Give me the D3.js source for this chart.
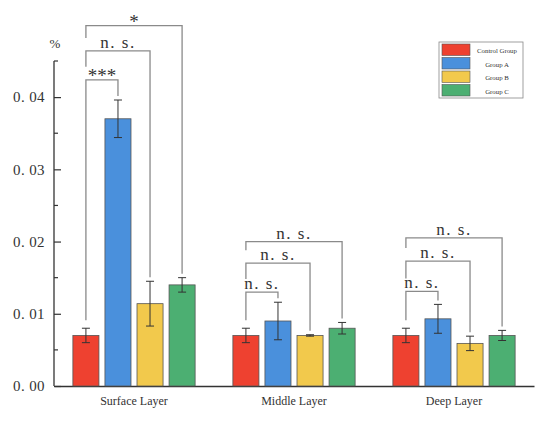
<!DOCTYPE html>
<html lang="en">
<head>
  <meta charset="UTF-8">
  <title>Layer comparison</title>
  <style>
    body { margin: 0; background: #fff; }
    svg text { font-family: "Liberation Serif", "DejaVu Serif", serif; fill: #333; }
  </style>
  <script src="https://d3js.org/d3.v7.min.js"></script>
</head>
<body>
  <svg width="550" height="421"></svg>

  <script>
    // data
    var layers = ["Surface Layer", "Middle Layer", "Deep Layer"];
    var groups = ["Control Group", "Group A", "Group B", "Group C"];
    var colors = ["#ee4130", "#4a90dc", "#f2c94c", "#4caf72"];

    var controlMean = [0.0070, 0.0070, 0.0070];
    var groupAMean  = [0.0370, 0.0090, 0.0093];
    var groupBMean  = [0.0114, 0.0070, 0.0059];
    var groupCMean  = [0.0140, 0.0080, 0.0070];

    var controlErr = [0.0010, 0.0010, 0.0010];
    var groupAErr  = [0.0026, 0.0026, 0.0020];
    var groupBErr  = [0.0031, 0.0001, 0.0010];
    var groupCErr  = [0.0010, 0.0008, 0.0007];

    // significance of control vs A, B, C in each layer, and bracket heights
    var sigLabels = [
      ["***", "n. s.", "*"],
      ["n. s.", "n. s.", "n. s."],
      ["n. s.", "n. s.", "n. s."]
    ];
    var sigLevels = [
      [0.0424, 0.0464, 0.0499],
      [0.0130, 0.0170, 0.0200],
      [0.0131, 0.0173, 0.0205]
    ];

    var yTicks = [0, 0.01, 0.02, 0.03, 0.04];

    var means = [controlMean, groupAMean, groupBMean, groupCMean];
    var errs = [controlErr, groupAErr, groupBErr, groupCErr];

    var svg = d3.select("svg");

    var x0 = d3.scaleBand().domain(layers).range([54, 534]);
    var x1 = d3.scaleBand().domain(groups)
      .range([-64, 64]).paddingInner(0.1875).paddingOuter(0.09);
    var y = d3.scaleLinear().domain([0, 0.045]).range([386, 61]);

    function barCenter(li, gi) {
      return x0(layers[li]) + x0.bandwidth() / 2 + x1(groups[gi]) + x1.bandwidth() / 2;
    }

    // y axis, inward ticks
    var yAxis = d3.axisLeft(y).tickValues(yTicks)
      .tickSize(-7).tickPadding(9)
      .tickFormat(function(d) { return d3.format(".2f")(d).replace(".", ". "); });
    var gy = svg.append("g").attr("transform", "translate(54,0)").call(yAxis);
    gy.select(".domain").attr("stroke", "#333").attr("stroke-width", 1.3)
      .attr("d", "M0,61V386");
    gy.selectAll(".tick line").attr("stroke", "#333").attr("stroke-width", 1.2);
    gy.selectAll(".tick text").attr("font-size", 15).style("fill", "#333")
      .style("letter-spacing", "0.4px");
    // minor ticks
    gy.selectAll(".minor").data([0.005, 0.015, 0.025, 0.035, 0.045]).enter()
      .append("line").attr("class", "minor")
      .attr("x1", 0).attr("x2", 4)
      .attr("y1", function(d) { return y(d); }).attr("y2", function(d) { return y(d); })
      .attr("stroke", "#333").attr("stroke-width", 1.2);

    svg.append("text").attr("x", 55).attr("y", 48)
      .attr("text-anchor", "middle").attr("font-size", 13).text("%");

    // x axis
    var xAxis = d3.axisBottom(x0).tickSize(0).tickPadding(10);
    var gx = svg.append("g").attr("transform", "translate(0,386)").call(xAxis);
    gx.select(".domain").attr("stroke", "#333").attr("stroke-width", 1.3);
    gx.selectAll(".tick text").attr("font-size", 12).style("fill", "#333");

    // bars
    groups.forEach(function(g, gi) {
      svg.append("g").selectAll("rect").data(layers).enter().append("rect")
        .attr("x", function(d) { return x0(d) + x0.bandwidth() / 2 + x1(g); })
        .attr("y", function(d, li) { return y(means[gi][li]); })
        .attr("width", x1.bandwidth())
        .attr("height", function(d, li) { return y(0) - y(means[gi][li]); })
        .attr("fill", colors[gi])
        .attr("stroke", "#555").attr("stroke-width", 0.8);

      var eb = svg.append("g").selectAll("g").data(layers).enter().append("g")
        .attr("stroke", "#333").attr("stroke-width", 1);
      eb.append("line")
        .attr("x1", function(d, li) { return barCenter(li, gi); })
        .attr("x2", function(d, li) { return barCenter(li, gi); })
        .attr("y1", function(d, li) { return y(means[gi][li] + errs[gi][li]); })
        .attr("y2", function(d, li) { return y(means[gi][li] - errs[gi][li]); });
      [1, -1].forEach(function(s) {
        eb.append("line")
          .attr("x1", function(d, li) { return barCenter(li, gi) - 4; })
          .attr("x2", function(d, li) { return barCenter(li, gi) + 4; })
          .attr("y1", function(d, li) { return y(means[gi][li] + s * errs[gi][li]); })
          .attr("y2", function(d, li) { return y(means[gi][li] + s * errs[gi][li]); });
      });
    });

    // significance brackets
    layers.forEach(function(layer, li) {
      var xl = barCenter(li, 0);
      sigLabels[li].forEach(function(lab, k) {
        var gi = k + 1;
        var xr = barCenter(li, gi);
        var yb = y(sigLevels[li][k]);
        var leftEnd = k === 0 ? y(means[0][li] + errs[0][li]) - 8 : y(sigLevels[li][k - 1]) - 13;
        var rightEnd = y(means[gi][li] + errs[gi][li]) - 4;
        svg.append("path")
          .attr("d", "M" + xl + "," + leftEnd + "V" + yb + "H" + xr + "V" + rightEnd)
          .attr("fill", "none").attr("stroke", "#8a8a8a").attr("stroke-width", 1.3);
        var t = svg.append("text")
          .attr("x", (xl + xr) / 2).attr("y", yb - (lab === "n. s." ? 3 : -2))
          .attr("text-anchor", "middle")
          .attr("font-size", lab === "n. s." ? 17 : 19)
          .text(lab);
        if (lab === "n. s.") t.style("letter-spacing", "1.5px");
      });
    });

    // legend
    var lg = svg.append("g").attr("transform", "translate(439,42)");
    lg.append("rect").attr("width", 84).attr("height", 56)
      .attr("fill", "#fff").attr("stroke", "#888").attr("stroke-width", 0.8);
    groups.forEach(function(g, i) {
      lg.append("rect").attr("x", 3).attr("y", 2 + i * 13.5)
        .attr("width", 28).attr("height", 11.5)
        .attr("fill", colors[i]).attr("stroke", "#555").attr("stroke-width", 0.6);
      lg.append("text").attr("x", 58).attr("y", 11 + i * 13.5)
        .attr("text-anchor", "middle").attr("font-size", 6.8).text(g);
    });
  </script>
</body>
</html>
